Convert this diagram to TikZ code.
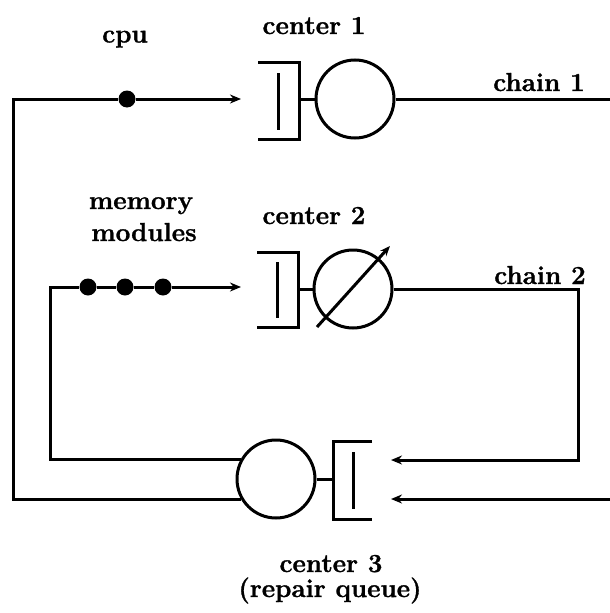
\documentclass[tikz,border=0pt]{standalone}
\usepackage{fontspec}
\setmainfont{Latin Modern Roman}[BoldFeatures={FakeBold=1.2}]
\usetikzlibrary{arrows.meta,calc}
\begin{document}
\begin{tikzpicture}[x=1pt,y=-1pt,
  line/.style={line width=3pt},
  flow/.style={line width=3pt,-{Stealth[length=11pt,width=9pt]}},
  server/.style={circle,draw,line width=3pt,minimum size=78pt,inner sep=0pt},
  lbl/.style={font=\fontsize{26}{30}\selectfont\bfseries,inner sep=0pt,anchor=base},
  tok/.style={circle,fill,inner sep=0pt,minimum size=17pt},
  qbar/.style={line width=3pt,line join=miter}]
\useasboundingbox (0,0) rectangle (610,613);

% servers
\node[server] (c1) at (355,99) {};
\node[server] (c2) at (353,289) {};
\node[server] (c3) at (276,479) {};

% queues
\coordinate (q1) at (299,99);
\coordinate (q2) at (298,289);
\coordinate (q3) at (333,479);
\draw[qbar] (258,62) -- (299,62) -- (299,139) -- (258,139);
\draw[qbar] (278,73) -- (278,130);
\draw[line] (q1) -- (c1);
\draw[qbar] (257,252) -- (298,252) -- (298,327) -- (257,327);
\draw[qbar] (277,262) -- (277,318);
\draw[line] (q2) -- (c2);
\draw[flow,-{Stealth[length=10pt,width=8pt]}] (317,327) -- (390,246);
\draw[qbar] (372,441) -- (333,441) -- (333,519) -- (372,519);
\draw[qbar] (353,452) -- (353,509);
\draw[line] (c3) -- (q3);

% tokens
\node[tok] (cpu) at (127,99) {};
\node[tok] (m1) at (88,287) {};
\node[tok] (m2) at (125,287) {};
\node[tok] (m3) at (163,287) {};

% connector end points
\coordinate (q1in) at (241,99);
\coordinate (q2in) at (241,287);
\coordinate (a1) at (241,499);
\coordinate (a2) at (241,459);
\coordinate (e1) at (610,99);
\coordinate (e2) at (610,499);
\coordinate (q3in1) at (391,460);
\coordinate (q3in2) at (391,499);

% connectors
\draw[line] (a1) -- (13,499) |- (cpu);
\draw[flow] (cpu) -- (q1in);
\draw[line] (a2) -- (50,459) |- (m1);
\draw[line] (m1) -- (m2) -- (m3);
\draw[flow] (m3) -- (q2in);
\draw[line] (c1) -- (e1);
\draw[flow] (e2) -- (q3in2);
\draw[flow] (c2) -- (578,289) -- (578,460) -- (q3in1);

% labels
\node[lbl] (lcpu) at (125,42.5) {cpu};
\node[lbl] (lc1) at (314,34) {center 1};
\node[lbl] (lmem) at (141,209) {memory};
\node[lbl] (lmod) at (144,241) {modules};
\node[lbl] (lc2) at (314,224) {center 2};
\node[lbl] (lch1) at (539,91) {chain 1};
\node[lbl] (lch2) at (540,284) {chain 2};
\node[lbl] (lc3) at (331,572) {center 3};
\node[lbl] (lrq) at (330,597) {(repair queue)};
\end{tikzpicture}
\end{document}
